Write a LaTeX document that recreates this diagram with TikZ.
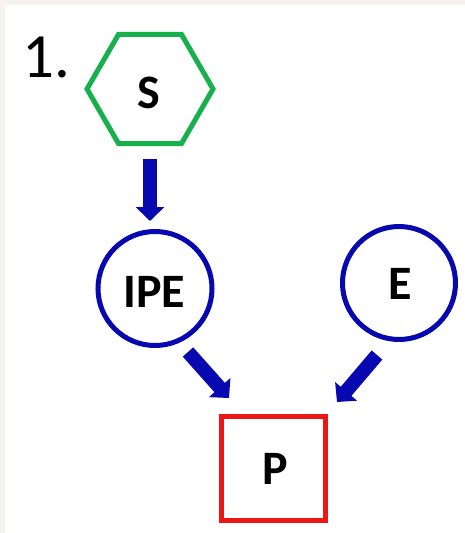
\documentclass[tikz,border=0pt]{standalone}
\usepackage{fontspec}
\setmainfont{Carlito}
\usetikzlibrary{shapes.geometric,arrows.meta}
\definecolor{hexgreen}{RGB}{22,176,76}
\definecolor{cblue}{RGB}{8,8,176}
\definecolor{pred}{RGB}{236,24,24}
\definecolor{edgegray}{RGB}{246,242,242}
\tikzset{
  lbl/.style={font=\fontsize{48}{52}\selectfont\bfseries, text=black, inner sep=0pt},
  hexbox/.style={regular polygon, regular polygon sides=6, draw=hexgreen, line width=5pt, minimum size=126pt, inner sep=0pt},
  cnode/.style={circle, draw=cblue, line width=5pt, inner sep=0pt},
  sqbox/.style={rectangle, draw=pred, line width=5pt, minimum size=104pt, inner sep=0pt},
  bigarrow/.style={draw=cblue, line width=14pt, -{Triangle[length=14pt,width=28pt]}}
}
\begin{document}
\begin{tikzpicture}[x=1pt,y=-1pt]
\fill[edgegray] (0,0) rectangle (465,533);
\fill[white] (5,5) rectangle (465,533);
\useasboundingbox (0,0) rectangle (465,533);
\node[inner sep=0pt, font=\fontsize{63}{66}\selectfont] (num) at (46,57) {1.};
\node[hexbox] (S) at (150,89) {};
\node[lbl] (Slbl) at (149,93) {S};
\node[cnode, minimum size=114pt] (IPE) at (155,288.5) {};
\node[lbl] (IPElbl) at (154.5,292) {IPE};
\node[cnode, minimum size=113pt] (E) at (399,283) {};
\node[lbl] (Elbl) at (400,284) {E};
\node[sqbox] (P) at (273.5,468) {};
\node[lbl] (Plbl) at (275,469) {P};
\draw[bigarrow, shorten <=13pt, shorten >=8pt] (S.south) -- (S.south |- IPE.north);
\coordinate (a2s) at (188,352);
\coordinate (a2e) at (229,398);
\coordinate (a3s) at (377,355);
\coordinate (a3e) at (337,402);
\draw[bigarrow] (a2s) -- (a2e);
\draw[bigarrow] (a3s) -- (a3e);
\end{tikzpicture}
\end{document}
